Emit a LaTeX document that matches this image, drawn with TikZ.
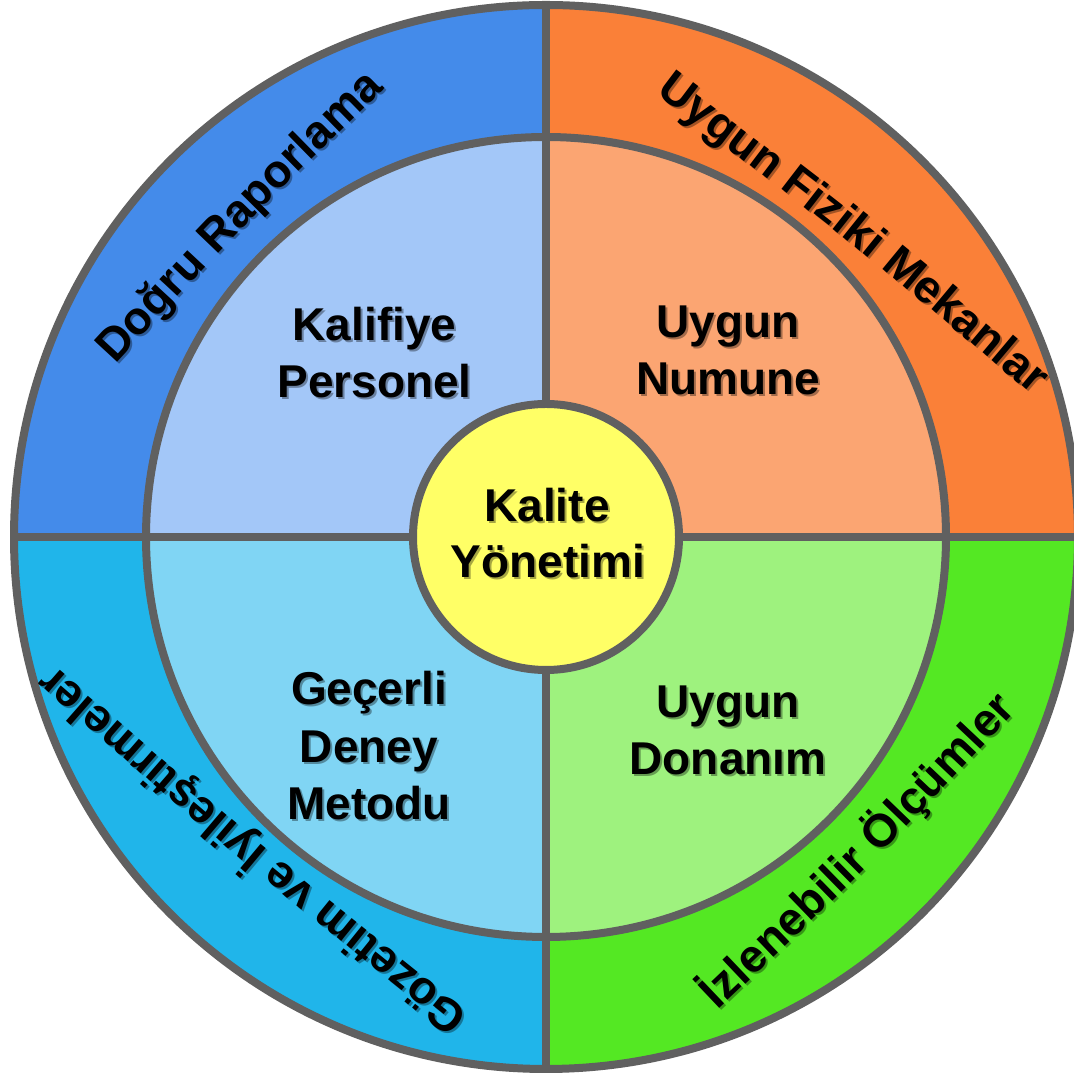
\documentclass[tikz,border=0pt]{standalone}
\usepackage{fontspec}
\setmainfont{Liberation Sans}
\usetikzlibrary{decorations.text}
\definecolor{outTL}{HTML}{448BEA}
\definecolor{outTR}{HTML}{FA8038}
\definecolor{outBL}{HTML}{20B5EA}
\definecolor{outBR}{HTML}{54E823}
\definecolor{inTL}{HTML}{A3C7F8}
\definecolor{inTR}{HTML}{FBA572}
\definecolor{inBL}{HTML}{80D5F4}
\definecolor{inBR}{HTML}{9EF27E}
\definecolor{hubfill}{HTML}{FFFF66}
\definecolor{ringline}{HTML}{606060}
\newcommand\bigfont{\fontsize{46}{46}\selectfont\bfseries}
\tikzset{
  ringstroke/.style={draw=ringline, line width=8pt},
  lbl/.style={font=\bigfont, anchor=base, inner sep=0pt, text=black},
  lblshadow/.style={lbl, text opacity=0.35, xshift=2pt, yshift=-2pt},
  arctext/.style={decorate, decoration={text along path, text align=center, text={|\bigfont|#1}}}
}
\newcommand\shlabel[4]{%
  \node[lblshadow] (#1s) at (#2,#3) {#4};
  \node[lbl] (#1) at (#2,#3) {#4};}
\begin{document}
\begin{tikzpicture}[x=1pt,y=1pt]
\useasboundingbox (0,0) rectangle (1074,1073);
\clip (0,0) rectangle (1074,1073);
\coordinate (c) at (546,536);
% outer sectors
\fill[outTR] (c) -- ++(0:532) arc[start angle=0, end angle=90, radius=532] -- cycle;
\fill[outTL] (c) -- ++(90:532) arc[start angle=90, end angle=180, radius=532] -- cycle;
\fill[outBL] (c) -- ++(180:532) arc[start angle=180, end angle=270, radius=532] -- cycle;
\fill[outBR] (c) -- ++(270:532) arc[start angle=270, end angle=360, radius=532] -- cycle;
% inner sectors
\fill[inTR] (c) -- ++(0:400) arc[start angle=0, end angle=90, radius=400] -- cycle;
\fill[inTL] (c) -- ++(90:400) arc[start angle=90, end angle=180, radius=400] -- cycle;
\fill[inBL] (c) -- ++(180:400) arc[start angle=180, end angle=270, radius=400] -- cycle;
\fill[inBR] (c) -- ++(270:400) arc[start angle=270, end angle=360, radius=400] -- cycle;
% strokes
\draw[ringstroke] (c) circle[radius=532];
\draw[ringstroke] (c) circle[radius=400];
\draw[ringstroke] ([yshift=532pt]c) -- ([yshift=-532pt]c);
\draw[ringstroke] ([xshift=-532pt]c) -- ([xshift=532pt]c);
% hub
\node[circle, ringstroke, fill=hubfill, minimum size=266pt, inner sep=0pt] (hub) at (c) {};
% inner labels
\shlabel{kal1}{374.5}{732}{Kalifiye}
\shlabel{kal2}{374.5}{675}{Personel}
\shlabel{num1}{728}{735}{Uygun}
\shlabel{num2}{728}{678}{Numune}
\shlabel{gec1}{369}{368}{Geçerli}
\shlabel{gec2}{369}{310}{Deney}
\shlabel{gec3}{369}{253}{Metodu}
\shlabel{don1}{728}{355}{Uygun}
\shlabel{don2}{728}{298}{Donanım}
\shlabel{hub1}{547}{551}{Kalite}
\shlabel{hub2}{548}{495}{Yönetimi}
% curved outer labels: shadow
\begin{scope}[shift={(2,-2)}, opacity=0.35]
\path[arctext={Doğru Raporlama}] (112,705) .. controls (246.2,850.2) .. (388,988);
\path[arctext={Uygun Fiziki Mekanlar}] (653,981) .. controls (848.2,833.7) .. (1035,676);
\path[arctext={İzlenebilir Ölçümler}] (715,60) .. controls (871.3,208.2) .. (1019,365);
\path[arctext={Gözetim ve İyileştirmeler}] (474,56) .. controls (256.2,230.9) .. (49,412);
\end{scope}
% curved outer labels
\path[arctext={Doğru Raporlama}] (112,705) .. controls (246.2,850.2) .. (388,988);
\path[arctext={Uygun Fiziki Mekanlar}] (653,981) .. controls (848.2,833.7) .. (1035,676);
\path[arctext={İzlenebilir Ölçümler}] (715,60) .. controls (871.3,208.2) .. (1019,365);
\path[arctext={Gözetim ve İyileştirmeler}] (474,56) .. controls (256.2,230.9) .. (49,412);
\end{tikzpicture}
\end{document}
